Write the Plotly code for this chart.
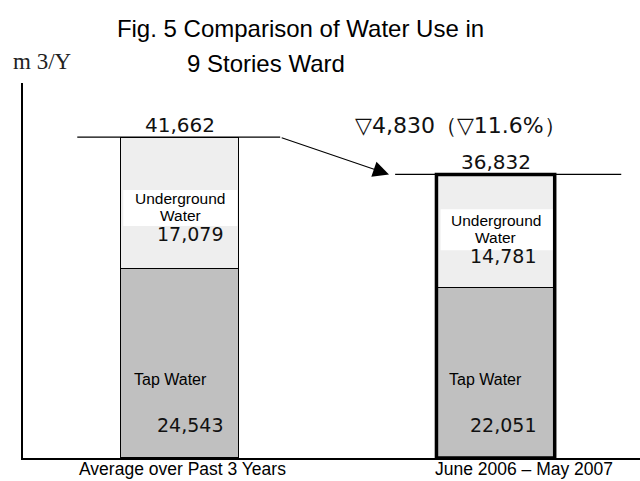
import plotly.graph_objects as go

# ---- data ----
categories = ["Average over Past 3 Years", "June 2006 – May 2007"]
tap_water = [24543, 22051]
underground_water = [17079, 14781]
totals = [41662, 36832]
total_labels = ["41,662", "36,832"]
tap_labels = ["24,543", "22,051"]
underground_labels = ["17,079", "14,781"]
change_label = "▽4,830（▽11.6%）"
unit_label = "m 3/Y"
title_lines = ["Fig. 5 Comparison of Water Use in", "9 Stories Ward"]
series_names = ["Tap Water", "Underground", "Water"]

BAR_W = 0.375
SANS = "Liberation Sans, Arial, sans-serif"
NUM = "DejaVu Sans, sans-serif"

L, R, T, B = 23, 0, 83, 23
PW, PH = 640 - L - R, 481 - T - B


def px_to_paper(px, py):
    return (px - L) / PW, (481 - B - py) / PH


fig = go.Figure()
fig.add_trace(go.Bar(
    x=categories, y=tap_water, width=BAR_W, name="Tap Water",
    marker=dict(color="#c0c0c0", line=dict(color="black", width=1.5)),
    showlegend=False, hoverinfo="skip"))
fig.add_trace(go.Bar(
    x=categories, y=underground_water, width=BAR_W, name="Underground Water",
    marker=dict(color="#eeeeee", line=dict(color="black", width=1.5)),
    showlegend=False, hoverinfo="skip"))

shapes = []
annotations = []

# thick outline around the second bar
shapes.append(dict(type="rect", xref="x", yref="y", layer="above",
                   x0=1 - BAR_W / 2, x1=1 + BAR_W / 2, y0=0,
                   y1=tap_water[1] + underground_water[1],
                   line=dict(color="black", width=3.5), fillcolor="rgba(0,0,0,0)"))

# white label boxes for "Underground Water"
box_px = [(-57, 57, 43, 79), (-55, 57, 38, 79)]
for i in range(2):
    x0, x1, y0, y1 = box_px[i]
    shapes.append(dict(type="rect", xref="x", yref="y", layer="above",
                       xsizemode="pixel", ysizemode="pixel",
                       xanchor=i, yanchor=tap_water[i],
                       x0=x0, x1=x1, y0=y0, y1=y1,
                       fillcolor="white", line=dict(width=0)))

# reference lines at totals
shapes.append(dict(type="line", xref="x", yref="y", x0=-0.3265, x1=0.317,
                   y0=totals[0], y1=totals[0], line=dict(color="black", width=1.2)))
shapes.append(dict(type="line", xref="x", yref="y", x0=0.6815, x1=1.3985,
                   y0=totals[1], y1=totals[1], line=dict(color="black", width=1.2)))

# arrow between totals
annotations.append(dict(x=0.662, y=totals[1], ax=0.317, ay=totals[0],
                        xref="x", yref="y", axref="x", ayref="y",
                        showarrow=True, arrowhead=2, arrowsize=2.9, arrowwidth=1.1,
                        arrowcolor="black", text=""))

# totals
for i in range(2):
    annotations.append(dict(x=i, y=totals[i], xref="x", yref="y", text=total_labels[i],
                            showarrow=False, yanchor="middle", yshift=12,
                            font=dict(family=NUM, size=20, color="#111")))
annotations.append(dict(x=0.888, y=totals[0], xref="x", yref="y", text=change_label,
                        showarrow=False, yanchor="middle", yshift=12,
                        font=dict(family=NUM, size=22, color="#111")))

# segment labels
ug_shift = [(71, 54, 35), (68, 51, 32)]
for i in range(2):
    a, b, c = ug_shift[i]
    annotations.append(dict(x=i, y=tap_water[i], xref="x", yref="y", text=series_names[1],
                            showarrow=False, yanchor="middle", yshift=a,
                            font=dict(family=SANS, size=15.5, color="black")))
    annotations.append(dict(x=i, y=tap_water[i], xref="x", yref="y", text=series_names[2],
                            showarrow=False, yanchor="middle", yshift=b,
                            font=dict(family=SANS, size=15.5, color="black")))
    annotations.append(dict(x=i, y=tap_water[i], xref="x", yref="y", text=underground_labels[i],
                            showarrow=False, xanchor="right", xshift=45 - 3 * i,
                            yanchor="middle", yshift=c,
                            font=dict(family=NUM, size=19, color="#111")))
    annotations.append(dict(x=i, y=0, xref="x", yref="y", text=series_names[0],
                            showarrow=False, xshift=-10, yanchor="middle", yshift=79,
                            font=dict(family=SANS, size=16, color="black")))
    annotations.append(dict(x=i, y=0, xref="x", yref="y", text=tap_labels[i],
                            showarrow=False, xanchor="right", xshift=45 - 3 * i,
                            yanchor="middle", yshift=33,
                            font=dict(family=NUM, size=19, color="#111")))

# category labels under the axis
cat_shift = [2, 28]
for i in range(2):
    annotations.append(dict(x=i, y=0, xref="x", yref="paper", text=categories[i],
                            showarrow=False, xshift=cat_shift[i], yanchor="top", yshift=0,
                            borderpad=0,
                            font=dict(family=SANS, size=17.5, color="black")))

# title second line and unit
tx, ty = px_to_paper(265.5, 63)
annotations.append(dict(x=tx, y=ty, xref="paper", yref="paper", xanchor="center",
                        yanchor="middle", text=title_lines[1], showarrow=False,
                        font=dict(family=SANS, size=24, color="black")))
ux, uy = px_to_paper(42, 62)
annotations.append(dict(x=ux, y=uy, xref="paper", yref="paper", xanchor="center",
                        yanchor="middle", text=unit_label, showarrow=False,
                        font=dict(family="Liberation Serif, serif", size=23, color="#222")))

fig.update_layout(
    width=640, height=481,
    margin=dict(l=L, r=R, t=T, b=B, pad=0),
    paper_bgcolor="white", plot_bgcolor="white",
    barmode="stack", bargap=0,
    title=dict(text=title_lines[0], x=300.5 / 640, xanchor="center",
               y=1 - 29 / 481, yanchor="middle",
               font=dict(family=SANS, size=24, color="black")),
    xaxis=dict(type="category", range=[-0.4986, 1.458], showline=True,
               linecolor="black", linewidth=1.5, showgrid=False, zeroline=False,
               showticklabels=False, ticks="", fixedrange=True),
    yaxis=dict(range=[0, 48700], showline=True, linecolor="black", linewidth=1.5,
               showgrid=False, zeroline=False, showticklabels=False, ticks="",
               fixedrange=True),
    shapes=shapes, annotations=annotations,
)

fig.write_html("out.html")
